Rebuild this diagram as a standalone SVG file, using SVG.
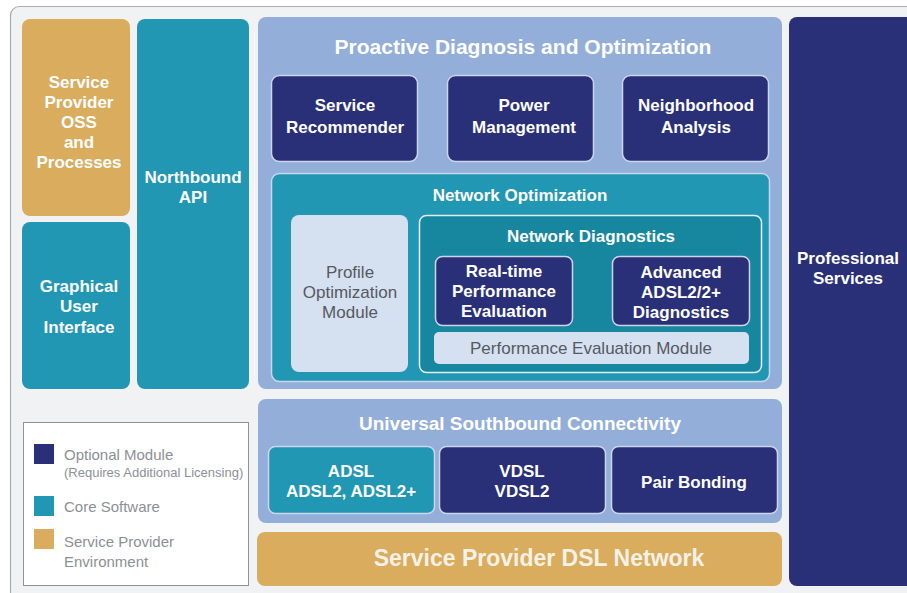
<svg xmlns="http://www.w3.org/2000/svg" width="907" height="593" viewBox="0 0 907 593">
<style>
.t{font-family:"Liberation Sans",Arial,sans-serif;font-weight:bold;font-size:17px;fill:#ffffff;text-anchor:middle}
.g{font-family:"Liberation Sans",Arial,sans-serif;font-size:17px;fill:#555a60;text-anchor:middle}
.l{font-family:"Liberation Sans",Arial,sans-serif;font-size:15px;fill:#8c9096}
.navy{fill:#2a3078;stroke:#cdd5ea;stroke-width:1.5}
.teal{fill:#2197b4}
.gold{fill:#d9ac5e}
.lb{fill:#92aed9}
.pale{fill:#d5e0f1}
</style>
<rect x="0" y="0" width="907" height="593" fill="#ffffff"/>
<rect x="10.5" y="6.5" width="920" height="610" rx="9" fill="#f1f2f4" stroke="#a9abae" stroke-width="1.2"/>

<g id="oss"><rect class="gold" x="22" y="19" width="108" height="197" rx="8"/>
<text class="t" x="79" y="88">Service</text><text class="t" x="79" y="108">Provider</text><text class="t" x="79" y="128">OSS</text><text class="t" x="79" y="148">and</text><text class="t" x="79" y="168">Processes</text></g>

<g id="gui"><rect class="teal" x="22" y="222" width="108" height="167" rx="8"/>
<text class="t" x="79" y="292">Graphical</text><text class="t" x="79" y="312">User</text><text class="t" x="79" y="333">Interface</text></g>

<g id="northbound"><rect class="teal" x="137" y="19" width="112" height="370" rx="8"/>
<text class="t" x="193" y="183">Northbound</text><text class="t" x="193" y="203">API</text></g>

<g id="proactive"><rect class="lb" x="258" y="17" width="524" height="372" rx="8"/>
<text class="t" x="523" y="54" style="font-size:21px">Proactive Diagnosis and Optimization</text></g>

<g id="service-recommender"><rect class="navy" x="271.5" y="75.5" width="146" height="86" rx="8"/>
<text class="t" x="345" y="111">Service</text><text class="t" x="345" y="133">Recommender</text></g>

<g id="power-management"><rect class="navy" x="447.5" y="75.5" width="146" height="86" rx="8"/>
<text class="t" x="524" y="111">Power</text><text class="t" x="524" y="133">Management</text></g>

<g id="neighborhood"><rect class="navy" x="622.5" y="75.5" width="146" height="86" rx="8"/>
<text class="t" x="696" y="111">Neighborhood</text><text class="t" x="696" y="133">Analysis</text></g>

<g id="network-optimization"><rect class="teal" x="271.5" y="173.5" width="498" height="208" rx="8" stroke="#c9d7ec" stroke-width="1.5"/>
<text class="t" x="520" y="201">Network Optimization</text></g>

<g id="profile-optimization"><rect class="pale" x="291" y="215" width="117" height="157" rx="8"/>
<text class="g" x="350" y="278">Profile</text><text class="g" x="350" y="298">Optimization</text><text class="g" x="350" y="318">Module</text></g>

<g id="network-diagnostics"><rect x="419.5" y="215.5" width="342" height="157" rx="7" fill="#17869f" stroke="#e4ecf6" stroke-width="1.5"/>
<text class="t" x="591" y="242">Network Diagnostics</text></g>

<g id="realtime"><rect class="navy" x="435.5" y="256.5" width="137" height="69" rx="7"/>
<text class="t" x="504" y="277">Real-time</text><text class="t" x="504" y="297">Performance</text><text class="t" x="504" y="317">Evaluation</text></g>

<g id="advanced"><rect class="navy" x="612.5" y="256.5" width="137" height="69" rx="7"/>
<text class="t" x="681" y="278">Advanced</text><text class="t" x="681" y="298">ADSL2/2+</text><text class="t" x="681" y="318">Diagnostics</text></g>

<g id="performance-evaluation"><rect class="pale" x="434" y="332" width="315" height="32" rx="5"/>
<text class="g" x="591" y="354">Performance Evaluation Module</text></g>

<g id="southbound"><rect class="lb" x="258" y="399" width="524" height="124" rx="8"/>
<text class="t" x="520" y="430" style="font-size:19px">Universal Southbound Connectivity</text></g>

<g id="adsl"><rect x="268.5" y="446.5" width="166" height="67" rx="7" fill="#2197b4" stroke="#cdd5ea" stroke-width="1.5"/>
<text class="t" x="351" y="477">ADSL</text><text class="t" x="351" y="497">ADSL2, ADSL2+</text></g>

<g id="vdsl"><rect class="navy" x="439.5" y="446.5" width="166" height="67" rx="7"/>
<text class="t" x="522" y="477">VDSL</text><text class="t" x="522" y="497">VDSL2</text></g>

<g id="pair-bonding"><rect class="navy" x="611.5" y="446.5" width="166" height="67" rx="7"/>
<text class="t" x="694" y="488">Pair Bonding</text></g>

<g id="dsl-network"><rect class="gold" x="257" y="532" width="525" height="54" rx="8"/>
<text class="t" x="539" y="566" style="font-size:23px;fill:#f6f1e6">Service Provider DSL Network</text></g>

<g id="professional-services"><rect x="789" y="17" width="140" height="569" rx="8" fill="#2a3078"/>
<text class="t" x="848" y="264">Professional</text><text class="t" x="848" y="284">Services</text></g>

<g id="legend"><rect x="23.5" y="422.5" width="225" height="163" fill="#ffffff" stroke="#8f9297" stroke-width="1"/>
<rect x="34" y="444" width="20" height="20" fill="#2a3078"/>
<rect x="34" y="496" width="20" height="20" fill="#2197b4"/>
<rect x="34" y="529" width="20" height="20" fill="#d9ac5e"/>
<text class="l" x="64" y="460">Optional Module</text>
<text class="l" x="64" y="477" style="font-size:13px">(Requires Additional Licensing)</text>
<text class="l" x="64" y="512">Core Software</text>
<text class="l" x="64" y="547">Service Provider</text>
<text class="l" x="64" y="567">Environment</text></g>
<g id="connectors"></g>
</svg>
